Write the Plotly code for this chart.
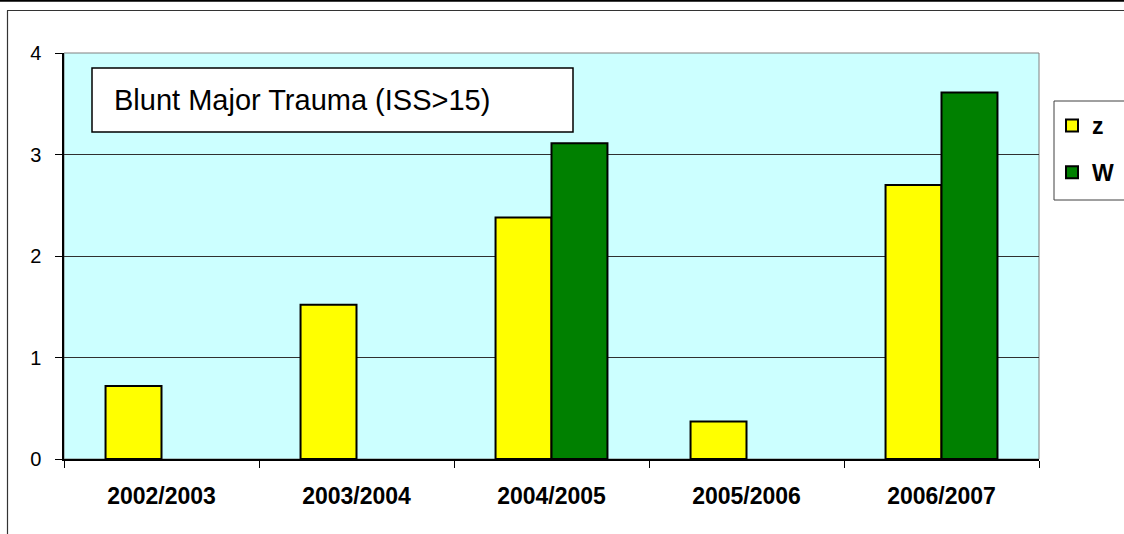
import plotly.graph_objects as go

seasons = ['2002/2003', '2003/2004', '2004/2005', '2005/2006', '2006/2007']
z_vals = [0.72, 1.52, 2.38, 0.37, 2.70]
w_vals = [None, None, 3.11, None, 3.61]
y_ticks = [0, 1, 2, 3, 4]

W, H = 1124, 534
L, R, T, B = 64, 85, 53, 75
pw, ph = W - L - R, H - T - B


def px(x):
    return (x - L) / pw


def py(y):
    return (H - B - y) / ph


fig = go.Figure()

fig.add_trace(go.Bar(
    x=seasons, y=z_vals, name='z',
    marker=dict(color='#FFFF00', line=dict(color='black', width=2)),
    legendgroup='z',
))
fig.add_trace(go.Bar(
    x=seasons, y=w_vals, name='W',
    marker=dict(color='#008000', line=dict(color='black', width=2)),
    legendgroup='W',
))

shapes = [
    # grey plot frame (top / right)
    dict(type='rect', xref='paper', yref='paper', x0=0, x1=1, y0=0, y1=1,
         line=dict(color='#808080', width=1), layer='below'),
    # outer chart frame
    dict(type='line', xref='paper', yref='paper', x0=px(0), x1=px(W + 5),
         y0=py(0.8), y1=py(0.8), line=dict(color='black', width=2)),
    dict(type='line', xref='paper', yref='paper', x0=px(7), x1=px(W + 5),
         y0=py(10.5), y1=py(10.5), line=dict(color='#333333', width=1.2)),
    dict(type='line', xref='paper', yref='paper', x0=px(7.5), x1=px(7.5),
         y0=py(10.5), y1=py(H + 5), line=dict(color='#333333', width=1.2)),
    # title box
    dict(type='rect', xref='paper', yref='paper', x0=px(92), x1=px(573),
         y0=py(132), y1=py(68), fillcolor='white',
         line=dict(color='black', width=1.5)),
    # legend box
    dict(type='rect', xref='paper', yref='paper', x0=px(1054), x1=px(W + 10),
         y0=py(200), y1=py(101), fillcolor='white',
         line=dict(color='#404040', width=1)),
]

fig.update_layout(
    width=W, height=H,
    margin=dict(l=L, r=R, t=T, b=B, autoexpand=False),
    paper_bgcolor='white',
    plot_bgcolor='#CCFFFF',
    font=dict(family='Arial, Liberation Sans, sans-serif', size=20, color='black'),
    barmode='group',
    bargap=0.426,
    bargroupgap=0,
    shapes=shapes,
    showlegend=True,
    legend=dict(
        xref='container', yref='container',
        x=1052 / W, y=1 - 104 / H, xanchor='left', yanchor='top',
        bgcolor='rgba(0,0,0,0)', borderwidth=0,
        font=dict(size=23, family='Arial, Liberation Sans, sans-serif', weight='bold'),
        traceorder='grouped', tracegroupgap=14,
        itemwidth=30,
    ),
    annotations=[
        dict(text='Blunt Major Trauma (ISS>15)', xref='paper', yref='paper',
             x=px(112), y=py(100), xanchor='left', yanchor='middle',
             showarrow=False, font=dict(size=29)),
    ],
)

fig.update_xaxes(
    type='category',
    tickson='boundaries', ticks='outside', ticklen=7, tickcolor='black',
    showline=True, linecolor='black', linewidth=1.5,
    tickfont=dict(size=23, weight='bold'),
    ticklabelstandoff=16,
    showgrid=False,
)
fig.update_yaxes(
    range=[0, 4], tickvals=y_ticks, ticks='outside', ticklen=7, tickcolor='black',
    showline=True, linecolor='black', linewidth=1.5,
    gridcolor='#303030', gridwidth=1, zeroline=False,
    tickfont=dict(size=20),
    ticklabelstandoff=10,
)

fig.write_html('out.html', config={'displayModeBar': False},
               post_script="document.body.style.margin='0';")
